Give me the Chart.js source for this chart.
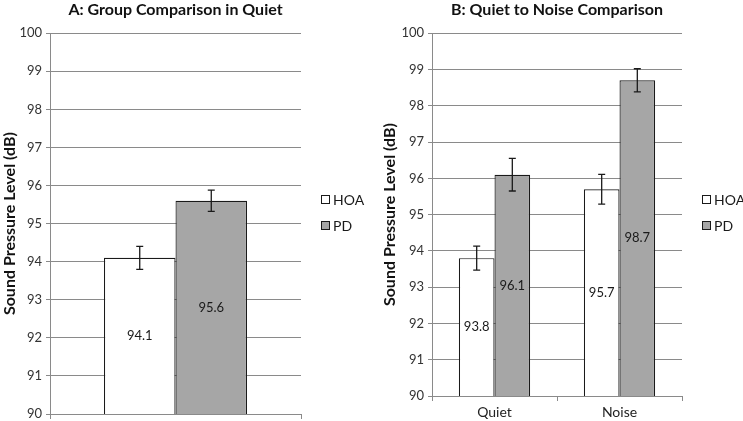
<!DOCTYPE html>
<html>
<head>
<meta charset="utf-8">
<script src="https://cdn.jsdelivr.net/npm/chart.js@4/dist/chart.umd.min.js"></script>
<style>
  html, body { margin: 0; padding: 0; background: #fff; }
  .panel { position: absolute; top: 0; height: 421px; }
  #panelA { left: 0; width: 372px; }
  #panelB { left: 372px; width: 371px; }
</style>
</head>
<body>
<div class="panel" id="panelA"><canvas id="chartA"></canvas></div>
<div class="panel" id="panelB"><canvas id="chartB"></canvas></div>
<script>
const seriesNames = ['HOA', 'PD'];

// panel A
const catsA = [''];
const hoaA = [94.1];
const pdA = [95.6];
const hoaErrA = [0.3];
const pdErrA = [0.28];

// panel B
const catsB = ['Quiet', 'Noise'];
const hoaB = [93.8, 95.7];
const pdB = [96.1, 98.7];
const hoaErrB = [0.33, 0.41];
const pdErrB = [0.45, 0.32];

const yMin = 90, yMax = 100, yStep = 1;

const FONT = 'Lato, "Open Sans", sans-serif';
const fills = ['#ffffff', '#a6a6a6'];
const gridGray = '#8a8a8a';

// error bars + value labels inside the bars
const barExtras = {
    id: 'barExtras',
    afterDatasetsDraw(chart) {
        const ctx = chart.ctx;
        const y = chart.scales.y;
        chart.data.datasets.forEach((ds, di) => {
            const meta = chart.getDatasetMeta(di);
            meta.data.forEach((bar, i) => {
                const v = ds.data[i];
                const e = ds.errors[i];
                ctx.save();
                // value label, middle of the bar
                ctx.fillStyle = '#1a1a1a';
                ctx.font = '13px ' + FONT;
                ctx.textAlign = 'center';
                ctx.textBaseline = 'middle';
                ctx.fillText(v.toFixed(1), bar.x, y.getPixelForValue((v + y.min) / 2));
                // error bar
                const top = y.getPixelForValue(v + e);
                const bot = y.getPixelForValue(v - e);
                ctx.strokeStyle = '#1a1a1a';
                ctx.lineWidth = 1.3;
                ctx.beginPath();
                ctx.moveTo(bar.x, top); ctx.lineTo(bar.x, bot);
                ctx.moveTo(bar.x - 3.5, top); ctx.lineTo(bar.x + 3.5, top);
                ctx.moveTo(bar.x - 3.5, bot); ctx.lineTo(bar.x + 3.5, bot);
                ctx.stroke();
                ctx.restore();
            });
        });
    }
};

// legend to the right of the plot
const sideLegend = {
    id: 'sideLegend',
    afterDraw(chart) {
        const ctx = chart.ctx;
        const x = chart.chartArea.right + 20;
        const cy = chart.height / 2 + 2;
        chart.data.datasets.forEach((ds, i) => {
            const yy = cy + (i === 0 ? -13 : 13);
            ctx.save();
            ctx.fillStyle = ds.backgroundColor;
            ctx.fillRect(x, yy - 4.5, 9, 9);
            ctx.strokeStyle = '#1a1a1a';
            ctx.lineWidth = 1;
            ctx.strokeRect(x + 0.5, yy - 4, 8, 8);
            ctx.fillStyle = '#1a1a1a';
            ctx.font = '14px ' + FONT;
            ctx.textBaseline = 'middle';
            ctx.fillText(ds.label, x + 12, yy + 1);
            ctx.restore();
        });
    }
};

function makeChart(id, cats, hoa, pd, hoaErr, pdErr, title, yWidth, xHeight, rightPad, titlePadTop, showCats) {
    return new Chart(document.getElementById(id), {
        type: 'bar',
        data: {
            labels: cats,
            datasets: [
                { label: seriesNames[0], data: hoa, errors: hoaErr, backgroundColor: fills[0],
                  borderColor: '#1a1a1a', borderWidth: 1.2, borderSkipped: false,
                  barPercentage: 1, categoryPercentage: 0.57 },
                { label: seriesNames[1], data: pd, errors: pdErr, backgroundColor: fills[1],
                  borderColor: '#1a1a1a', borderWidth: 1.2, borderSkipped: false,
                  barPercentage: 1, categoryPercentage: 0.57 }
            ]
        },
        options: {
            responsive: true,
            maintainAspectRatio: false,
            animation: false,
            layout: { padding: { left: 0, right: rightPad, top: 0, bottom: 0 } },
            plugins: {
                legend: { display: false },
                tooltip: { enabled: false },
                title: {
                    display: true, text: title, fullSize: false,
                    color: '#111', font: { family: FONT, size: 16, weight: 'bold' },
                    padding: { top: 0, bottom: 14 }
                }
            },
            scales: {
                x: {
                    grid: { drawOnChartArea: false, color: gridGray, tickLength: 5 },
                    border: { color: gridGray },
                    ticks: { display: showCats, color: '#222', font: { family: FONT, size: 14 }, padding: 3 },
                    afterFit: s => { s.height = xHeight; }
                },
                y: {
                    min: yMin, max: yMax,
                    ticks: { stepSize: yStep, color: '#333', font: { family: FONT, size: 13 }, padding: 4 },
                    grid: { color: gridGray, tickLength: 4 },
                    border: { color: gridGray },
                    title: {
                        display: true, text: 'Sound Pressure Level (dB)', color: '#111',
                        font: { family: FONT, size: 16, weight: 'bold' },
                        padding: { top: titlePadTop, bottom: 0 }
                    },
                    afterFit: s => { s.width = yWidth; s.paddingTop = 0; s.paddingBottom = 0; }
                }
            }
        },
        plugins: [barExtras, sideLegend]
    });
}

makeChart('chartA', catsA, hoaA, pdA, hoaErrA, pdErrA, 'A: Group Comparison in Quiet', 50, 7, 71, 0, false);
makeChart('chartB', catsB, hoaB, pdB, hoaErrB, pdErrB, 'B: Quiet to Noise Comparison', 60, 25, 61, 8, true);
</script>
</body>
</html>
